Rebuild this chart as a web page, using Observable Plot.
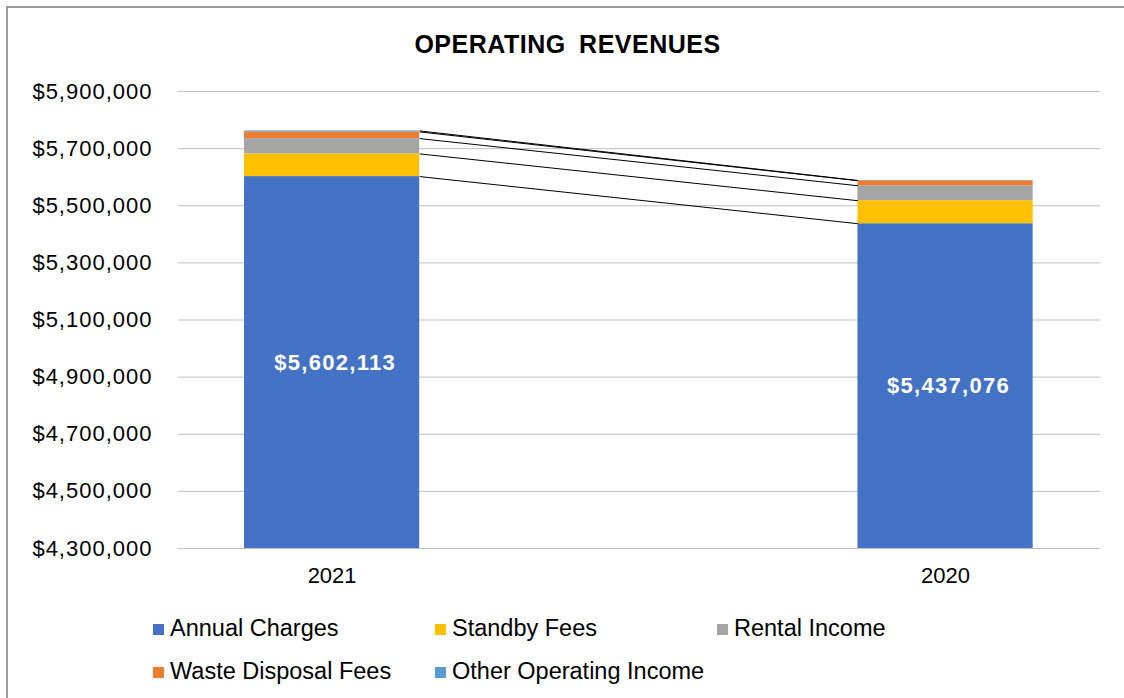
<!DOCTYPE html>
<html>
<head>
<meta charset="utf-8">
<script src="https://cdn.jsdelivr.net/npm/d3@7"></script>
<script src="https://cdn.jsdelivr.net/npm/@observablehq/plot@0.6"></script>
<style>
  body { margin: 0; background: #fff; font-family: "Liberation Sans", Arial, sans-serif; }
  #wrap { position: relative; width: 1124px; height: 698px; overflow: hidden; background: #fff; }
  #frame { position: absolute; left: 6px; top: 6px; width: 1300px; height: 900px; border: 2px solid #9a9a9a; pointer-events: none; }
  #title { height: 70px; box-sizing: border-box; padding-top: 30px; padding-left: 11px; text-align: center;
           font-weight: bold; font-size: 25px; line-height: 28px; letter-spacing: 0.5px; word-spacing: 6px; color: #000; }
  #chart { height: 530px; }
  #chart svg { display: block; }
  #legend { position: relative; height: 98px; }
  .item { position: absolute; display: flex; align-items: center; height: 28px; font-size: 23.5px; color: #000; white-space: nowrap; }
  .sw { width: 11px; height: 11px; margin-right: 6px; margin-top: 2px; }
</style>
</head>
<body>
<div id="wrap">
  <div id="title">OPERATING REVENUES</div>
  <div id="chart"></div>
  <div id="legend"></div>
  <div id="frame"></div>
</div>
<script>
// ---- data ----
const years = ["2021", "2020"];
const seriesNames = ["Annual Charges", "Standby Fees", "Rental Income", "Waste Disposal Fees", "Other Operating Income"];
const annualCharges = [5602113, 5437076];
const standbyFees = [79400, 80500];
const rentalIncome = [53600, 52500];
const wasteDisposalFees = [23400, 17500];
const otherOperatingIncome = [3500, 800];
const seriesColors = ["#4472C4", "#FFC000", "#A5A5A5", "#ED7D31", "#5B9BD5"];
const yTicks = [4300000, 4500000, 4700000, 4900000, 5100000, 5300000, 5500000, 5700000, 5900000];

const seriesValues = [annualCharges, standbyFees, rentalIncome, wasteDisposalFees, otherOperatingIncome];
const hw = 0.1428; // half bar width in category units

// stacked rows
const rows = [];
const tops = seriesNames.map(() => []);
years.forEach((year, i) => {
  let base = 0;
  seriesNames.forEach((s, k) => {
    const v = seriesValues[k][i];
    rows.push({ i, year, series: s, y1: base, y2: base + v });
    base += v;
    tops[k][i] = base;
  });
});
const links = seriesNames.map((s, k) => ({ series: s, a: tops[k][0], b: tops[k][1] }));
const labels = years.map((year, i) => ({ i, v: annualCharges[i] }));
const money = d => "$" + d3.format(",")(d);

const chart = Plot.plot({
  width: 1124,
  height: 530,
  marginTop: 21,
  marginBottom: 52,
  marginLeft: 178,
  marginRight: 24,
  style: { fontFamily: "'Liberation Sans', Arial, sans-serif", color: "#000", background: "transparent" },
  x: { domain: [-0.2504, 1.2526] },
  y: { domain: [yTicks[0], yTicks[yTicks.length - 1]] },
  color: { domain: seriesNames, range: seriesColors },
  marks: [
    Plot.ruleY(yTicks, { stroke: "#bfbfbf", strokeWidth: 1 }),
    Plot.rectY(rows, { x1: d => d.i - hw, x2: d => d.i + hw, y1: "y1", y2: "y2", fill: "series", clip: true }),
    Plot.link(links, { x1: () => hw, x2: () => 1 - hw, y1: "a", y2: "b", stroke: "#000", strokeWidth: 1 }),
    Plot.text(labels, { x: "i", y: d => (yTicks[0] + d.v) / 2, text: d => money(d.v), fill: "#fff",
      fontWeight: "bold", fontSize: 22, dx: 3 }),
    Plot.axisY({ ticks: yTicks, tickFormat: money, tickSize: 0, tickPadding: 26, fontSize: 22, label: null }),
    Plot.axisX({ ticks: [0, 1], tickFormat: i => years[i], tickSize: 0, tickPadding: 19, fontSize: 22, label: null })
  ]
});
document.getElementById("chart").appendChild(chart);
d3.select(chart).selectAll('g[aria-label="y-axis tick label"] text').style("letter-spacing", "1px");
d3.select(chart).selectAll('g[aria-label="text"] text').style("letter-spacing", "1.3px");

// legend
const legendPos = [[153, 14], [435, 14], [717, 14], [153, 57], [435, 57]];
const legend = document.getElementById("legend");
seriesNames.forEach((s, k) => {
  const it = document.createElement("div");
  it.className = "item";
  it.style.left = legendPos[k][0] + "px";
  it.style.top = legendPos[k][1] + "px";
  const sw = document.createElement("span");
  sw.className = "sw";
  sw.style.background = seriesColors[k];
  const tx = document.createElement("span");
  tx.textContent = s;
  it.appendChild(sw);
  it.appendChild(tx);
  legend.appendChild(it);
});
</script>
</body>
</html>
